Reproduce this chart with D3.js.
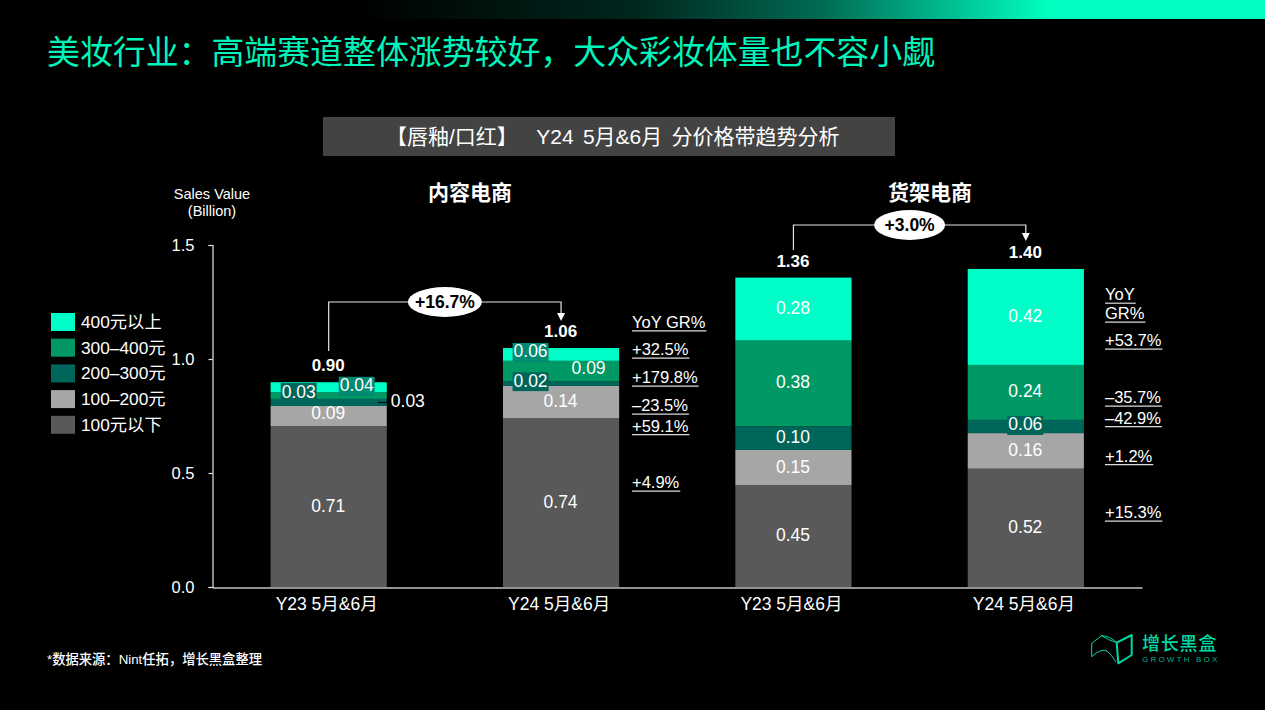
<!DOCTYPE html>
<html>
<head>
<meta charset="utf-8">
<script src="https://cdn.jsdelivr.net/npm/d3@7"></script>
<style>
  html, body { margin: 0; padding: 0; background: #000; overflow: hidden; }
  text { font-family: "Liberation Sans", "Noto Sans CJK SC", sans-serif; fill: #fff; white-space: pre; }
  .cjk { font-family: "Noto Sans CJK SC", sans-serif; }
</style>
</head>
<body>
<svg id="chart" width="1265" height="710"></svg>
<script>
// chart values
const periods = ["Y23 5月&6月", "Y24 5月&6月", "Y23 5月&6月", "Y24 5月&6月"];
const tiers = ["100元以下", "100–200元", "200–300元", "300–400元", "400元以上"];
const under100 = [0.706, 0.74, 0.447, 0.519];
const from100 = [0.088, 0.142, 0.154, 0.156];
const from200 = [0.031, 0.02, 0.104, 0.058];
const from300 = [0.029, 0.09, 0.376, 0.241];
const over400 = [0.044, 0.056, 0.276, 0.421];
const totals = ["0.90", "1.06", "1.36", "1.40"];
const yTicks = [0, 0.5, 1, 1.5];
const contentYoY = ["+32.5%", "+179.8%", "–23.5%", "+59.1%", "+4.9%"];
const shelfYoY = ["+53.7%", "–35.7%", "–42.9%", "+1.2%", "+15.3%"];
const tierColors = ["#595959", "#a6a6a6", "#00665a", "#009966", "#00ffc8"];
const tierValues = [under100, from100, from200, from300, over400];

const svg = d3.select("#chart");

// top gradient band
const defs = svg.append("defs");
const grad = defs.append("linearGradient").attr("id", "topBand");
grad.append("stop").attr("offset", "0.28").attr("stop-color", "#000");
grad.append("stop").attr("offset", "0.5").attr("stop-color", "#00261d");
grad.append("stop").attr("offset", "0.65").attr("stop-color", "#006b54");
grad.append("stop").attr("offset", "0.83").attr("stop-color", "#00ffc0");
svg.append("rect").attr("width", 1265).attr("height", 19).attr("fill", "url(#topBand)");

svg.append("text").attr("class", "cjk").attr("x", 47).attr("y", 64)
  .attr("font-size", 32.9).style("fill", "#00f5bd")
  .text("美妆行业：高端赛道整体涨势较好，大众彩妆体量也不容小觑");

// grey header
svg.append("rect").attr("x", 323).attr("y", 117).attr("width", 572).attr("height", 39).attr("fill", "#434343");
svg.append("text").attr("x", 386).attr("y", 144).attr("font-size", 21).attr("word-spacing", 3.4)
  .text("【唇釉/口红】  Y24 5月&6月 分价格带趋势分析");

svg.append("text").attr("class", "cjk").attr("x", 470).attr("y", 200).attr("text-anchor", "middle")
  .attr("font-size", 21).attr("font-weight", 700).text("内容电商");
svg.append("text").attr("class", "cjk").attr("x", 930).attr("y", 200).attr("text-anchor", "middle")
  .attr("font-size", 21).attr("font-weight", 700).text("货架电商");

// scales
const x = d3.scaleBand().domain(d3.range(periods.length)).range([212.5, 1142]).paddingInner(0.5).paddingOuter(0.25);
const y = d3.scaleLinear().domain([0, 1.5]).range([587, 245]);

// axes
const yAxis = svg.append("g").attr("transform", "translate(212.5,0)")
  .call(d3.axisLeft(y).tickValues(yTicks).tickFormat(d3.format(".1f")).tickSize(4).tickPadding(14));
yAxis.selectAll("path,line").attr("stroke", "#e6e6e6").attr("stroke-width", 1.2);
yAxis.selectAll("text").attr("font-size", 16.5);

const xAxis = svg.append("g").attr("transform", "translate(0,587.5)")
  .call(d3.axisBottom(x).tickSize(0).tickPadding(10).tickFormat((i) => periods[i]));
xAxis.select("path").attr("stroke", "#c4c4c4").attr("stroke-width", 1.7);
xAxis.selectAll("text").attr("font-size", 17.5).attr("dx", -2);

svg.append("text").attr("x", 212).attr("y", 199).attr("text-anchor", "middle").attr("font-size", 14.5).text("Sales Value");
svg.append("text").attr("x", 212).attr("y", 216).attr("text-anchor", "middle").attr("font-size", 14.5).text("(Billion)");

// stacked bars
const rows = periods.map((period, i) => {
  const row = { index: i };
  tiers.forEach((tier, t) => { row[tier] = tierValues[t][i]; });
  return row;
});
const stacked = d3.stack().keys(tiers)(rows);

const layers = svg.append("g").selectAll("g").data(stacked).join("g")
  .attr("fill", (d, i) => tierColors[i]);
layers.selectAll("rect").data((d) => d).join("rect")
  .attr("x", (d) => x(d.data.index))
  .attr("width", x.bandwidth())
  .attr("y", (d) => y(d[1]))
  .attr("height", (d) => y(d[0]) - y(d[1]));

// nudges for the thin-segment labels: [series, bar, dx, dy, chip colour]
const nudges = [
  [3, 0, -29.5, -3, "#00665a"],
  [4, 0, 28.5, -1, "#008a72"],
  [1, 0, 0, -2, null],
  [4, 1, -30, -2, "#008a72"],
  [3, 1, 28, -2, null],
  [2, 1, -30, -2, "#00665a"],
  [2, 3, 0, -1, "#00665a"],
];
const nudgeFor = (s, b) => nudges.find((n) => n[0] === s && n[1] === b);

stacked.forEach((layer, s) => {
  layer.forEach((d, b) => {
    if (s === 2 && b === 0) return; // drawn outside the bar below
    const n = nudgeFor(s, b);
    const cx = x(d.data.index) + x.bandwidth() / 2 - 0.5 + (n ? n[2] : 0);
    const cy = y((d[0] + d[1]) / 2) + (n ? n[3] : 0);
    if (n && n[4]) {
      svg.append("rect").attr("x", cx - 18).attr("y", cy - 9.5).attr("width", 36).attr("height", 19).attr("fill", n[4]);
    }
    svg.append("text").attr("x", cx).attr("y", cy + 5)
      .attr("text-anchor", "middle").attr("font-size", 17.5).text(d3.format(".2f")(tierValues[s][b]));
  });
});

// outside label of the first bar with its leader
const outX = x(0) + x.bandwidth();
const outY = y(under100[0] + from100[0] + from200[0] / 2);
svg.append("line").attr("x1", outX - 9).attr("x2", outX).attr("y1", outY).attr("y2", outY).attr("stroke", "#000").attr("stroke-width", 1);
svg.append("text").attr("x", outX + 4).attr("y", outY + 5).attr("font-size", 17.5).text(d3.format(".2f")(from200[0]));

// totals above the bars
periods.forEach((p, i) => {
  svg.append("text")
    .attr("x", x(i) + x.bandwidth() / 2 - 0.5).attr("y", y(stacked[4][i][1]) - 11)
    .attr("text-anchor", "middle").attr("font-size", 17).attr("font-weight", 700).text(totals[i]);
});

// growth connector between two bars
const connector = (from, to, levelY, label, startY, endY, ellipseW) => {
  const x1 = x(from) + x.bandwidth() / 2;
  const x2 = x(to) + x.bandwidth() / 2;
  svg.append("path").attr("fill", "none").attr("stroke", "#e6e6e6").attr("stroke-width", 1.2)
    .attr("d", d3.line()([[x1, startY], [x1, levelY], [x2, levelY], [x2, endY - 6]]));
  svg.append("path").attr("fill", "#fff")
    .attr("d", d3.line()([[x2 - 4, endY - 8], [x2 + 4, endY - 8], [x2, endY]]));
  const mid = (x1 + x2) / 2;
  svg.append("ellipse").attr("cx", mid).attr("cy", levelY).attr("rx", ellipseW / 2).attr("ry", 15).attr("fill", "#fff");
  svg.append("text").attr("x", mid).attr("y", levelY + 6).attr("text-anchor", "middle")
    .attr("font-size", 17.5).attr("font-weight", 700).style("fill", "#000").text(label);
};
connector(0, 1, 302, "+16.7%", 351, 321, 74);
connector(2, 3, 225, "+3.0%", 250, 241, 71);

// underlined YoY columns
const underlined = (tx, ty, label) => {
  const t = svg.append("text").attr("x", tx).attr("y", ty).attr("font-size", 16.5).text(label);
  const w = t.node().getComputedTextLength();
  svg.append("line").attr("x1", tx).attr("x2", tx + w + 1).attr("y1", ty + 3.2).attr("y2", ty + 3.2).attr("stroke", "#dcdcdc").attr("stroke-width", 1.2);
};
underlined(632, 327.7, "YoY GR%");
[355, 383, 411, 431.5, 488].forEach((ty, i) => underlined(632, ty, contentYoY[i]));
underlined(1105, 300, "YoY");
underlined(1105, 319, "GR%");
[346, 403, 423.5, 461.5, 518].forEach((ty, i) => underlined(1105, ty, shelfYoY[i]));

// legend, top tier first
const legend = svg.append("g").selectAll("g").data(tiers.slice().reverse()).join("g")
  .attr("transform", (d, i) => `translate(51,${313 + i * 25.7})`);
legend.append("rect").attr("width", 24).attr("height", 18)
  .attr("fill", (d) => tierColors[tiers.indexOf(d)]);
legend.append("text").attr("x", 30).attr("y", 15).attr("font-size", 17.3).text((d) => d);

// footnote
svg.append("text").attr("x", 47).attr("y", 664).attr("font-size", 13.3).attr("font-weight", 500).text("*数据来源：Nint任拓，增长黑盒整理");

// logo
const logo = svg.append("g").attr("fill", "none").attr("stroke", "#00d9a5").attr("stroke-width", 1).attr("stroke-linejoin", "round");
logo.append("path").attr("d", "M1091.7 643.3 L1101.7 635.7 Q1110 636 1116.7 642.7 M1091.7 643.3 L1091.7 656.7 Q1101 648 1107 651 Q1111 654 1116 662 M1101.7 635.7 Q1108 640 1116.7 642.7");
logo.append("path").attr("stroke-width", 2).attr("d", "M1116.7 642.7 L1131.7 635 L1131.7 655 L1118.3 663.3 Z");
svg.append("text").attr("class", "cjk").attr("x", 1142).attr("y", 649.5).attr("font-size", 18).attr("font-weight", 500).attr("letter-spacing", 0.8).style("fill", "#00d9a5").text("增长黑盒");
svg.append("text").attr("x", 1142).attr("y", 661.5).attr("font-size", 8).attr("letter-spacing", 2.2).style("fill", "#00b48a").text("GROWTH BOX");
</script>
</body>
</html>
